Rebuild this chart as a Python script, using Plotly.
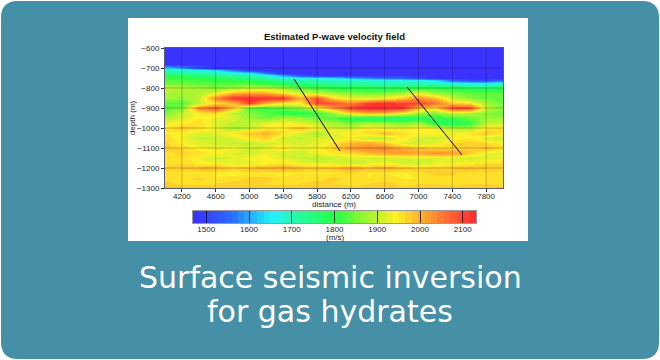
import plotly.graph_objects as go

distance = [4000 + 200 * i for i in range(21)]
depth = [-600, -650, -680, -700, -712, -725, -737, -750, -762, -775, -800, -825, -850, -875, -900, -925, -950, -975,
         -1000, -1025, -1050, -1075, -1100, -1125, -1150, -1175, -1200, -1225, -1250, -1275, -1300]
B = 1480
velocity = [
    [B] * 21,
    [B] * 21,
    [B] * 21,
    [1660, 1600, 1530, B, B, B, B, B, B, B, B, B, B, B, B, B, B, B, B, B, B],
    [1700, 1690, 1670, 1640, 1560, B, B, B, B, B, B, B, B, B, B, B, B, B, B, B, B],
    [1740, 1725, 1710, 1695, 1680, 1665, 1560, B, B, B, B, B, B, B, B, B, B, B, B, B, B],
    [1790, 1770, 1750, 1735, 1715, 1700, 1675, 1590, 1510, B, B, B, B, B, B, B, B, B, B, B, B],
    [1810, 1805, 1795, 1785, 1765, 1745, 1715, 1685, 1670, 1660, 1640, 1610, 1580, 1560, 1545, 1510, B, B, B, B, B],
    [1830, 1825, 1815, 1805, 1800, 1790, 1760, 1720, 1705, 1695, 1690, 1685, 1680, 1675, 1670, 1665, 1640, 1545, 1510, 1510, 1545],
    [1840, 1840, 1830, 1825, 1820, 1815, 1800, 1770, 1750, 1740, 1725, 1720, 1710, 1705, 1700, 1700, 1690, 1670, 1650, 1650, 1680],
    [1900, 1890, 1880, 1860, 1880, 1900, 1900, 1880, 1840, 1820, 1790, 1790, 1790, 1780, 1780, 1800, 1800, 1790, 1780, 1760, 1780],
    [1890, 1880, 1890, 1930, 2000, 2020, 2010, 1960, 1920, 1900, 1880, 1860, 1850, 1860, 1880, 1930, 1880, 1850, 1840, 1830, 1830],
    [1880, 1870, 1900, 2040, 2125, 2130, 2130, 2120, 2000, 2090, 1960, 1930, 1920, 1940, 1980, 2030, 1990, 1900, 1860, 1840, 1830],
    [1830, 1830, 1900, 1960, 1990, 2110, 2000, 1950, 1940, 2100, 2090, 2040, 2110, 2125, 2110, 2100, 2060, 1980, 1960, 1880, 1840],
    [1830, 1860, 2040, 2085, 1980, 1820, 1810, 1830, 1860, 1930, 2020, 2110, 2130, 2131, 2120, 1990, 1960, 2100, 2110, 1900, 1860],
    [1850, 1900, 1950, 1960, 1900, 1860, 1830, 1800, 1790, 1810, 1880, 1960, 2000, 1990, 1940, 1880, 1860, 1900, 1890, 1860, 1840],
    [1890, 1920, 1950, 1930, 1920, 1870, 1850, 1880, 1880, 1850, 1820, 1790, 1760, 1750, 1760, 1780, 1790, 1810, 1840, 1870, 1880],
    [1930, 1950, 1960, 1920, 1900, 1900, 1930, 1950, 1920, 1900, 1880, 1850, 1880, 1880, 1850, 1880, 1780, 1770, 1800, 1900, 1900],
    [1950, 1980, 1960, 1930, 1880, 1900, 1950, 1940, 1990, 1940, 1920, 1910, 1950, 1930, 1920, 1950, 1930, 1890, 1880, 1950, 1960],
    [1950, 1940, 1920, 1930, 1950, 1980, 2000, 1960, 1920, 1880, 1930, 1950, 1960, 1990, 1960, 1940, 1950, 1930, 1950, 1980, 1950],
    [1960, 1940, 1900, 1900, 1920, 1950, 1970, 1910, 1900, 1920, 1920, 1940, 1900, 1900, 1950, 1920, 1900, 1940, 1950, 1920, 1900],
    [1970, 1945, 1925, 1915, 1900, 1900, 1915, 1925, 1915, 1925, 1960, 1990, 2010, 1980, 1925, 1905, 1925, 1965, 1975, 1965, 1940],
    [1975, 1965, 1940, 1930, 1945, 1910, 1925, 1960, 1925, 1940, 1970, 2020, 2040, 2040, 2010, 1985, 1970, 1970, 1975, 1985, 1960],
    [1960, 1970, 1960, 1945, 1920, 1905, 1935, 1910, 1905, 1935, 1950, 1960, 1990, 2010, 2020, 2010, 2030, 2020, 1975, 1935, 1920],
    [1960, 1960, 1935, 1905, 1925, 1945, 1950, 1925, 1905, 1890, 1905, 1925, 1915, 1905, 1915, 1925, 1915, 1925, 1905, 1925, 1930],
    [1955, 1965, 1945, 1950, 1925, 1925, 1940, 1955, 1935, 1925, 1925, 1905, 1925, 1940, 1915, 1905, 1925, 1935, 1945, 1965, 1965],
    [1970, 1980, 1990, 1990, 1970, 1990, 2000, 2010, 1990, 1980, 1990, 2010, 1990, 2000, 1990, 1970, 1980, 1980, 1990, 1980, 1970],
    [1960, 1950, 1950, 1950, 1940, 1950, 1950, 1940, 1950, 1950, 1950, 1960, 1950, 1950, 1940, 1960, 1970, 1970, 1950, 1960, 1960],
    [1960, 1960, 1970, 1950, 1960, 1970, 1970, 1960, 1960, 1960, 1970, 1960, 1950, 1960, 1950, 1950, 1960, 1960, 1950, 1960, 1960],
    [1970, 1960, 1960, 1965, 1970, 1970, 1965, 1960, 1965, 1970, 1965, 1960, 1965, 1970, 1960, 1965, 1965, 1960, 1965, 1965, 1960],
    [1990, 1985, 1975, 1970, 1975, 1975, 1970, 1975, 1970, 1970, 1975, 1970, 1970, 1975, 1970, 1970, 1975, 1970, 1970, 1975, 1970],
]
fault_1_x = [5527, 6071]
fault_1_y = [-755, -1115]
fault_2_x = [6864, 7515]
fault_2_y = [-795, -1135]
x_ticks = [4200, 4600, 5000, 5400, 5800, 6200, 6600, 7000, 7400, 7800]
y_ticks = [-600, -700, -800, -900, -1000, -1100, -1200, -1300]
cbar_ticks = [1500, 1600, 1700, 1800, 1900, 2000, 2100]
title_lines = ["Surface seismic inversion", "for gas hydrates"]

ZMIN, ZMAX = 1469, 2131
anchors = [(1469, (60, 45, 255)), (1560, (40, 110, 255)), (1650, (35, 240, 255)), (1710, (40, 250, 170)),
           (1800, (40, 255, 70)), (1880, (165, 245, 50)), (1945, (255, 240, 40)),
           (2010, (255, 165, 45)), (2131, (255, 40, 50))]


def col(v):
    for (a, ca), (b, cb) in zip(anchors, anchors[1:]):
        if v <= b:
            t = (v - a) / (b - a)
            return "rgb(%d,%d,%d)" % tuple(round(p + (q - p) * t) for p, q in zip(ca, cb))
    return "rgb(255,40,50)"


N = 44
colorscale = []
for i in range(N):
    c = col(ZMIN + (ZMAX - ZMIN) * (i + 0.5) / N)
    colorscale += [[i / N, c], [(i + 1) / N, c]]
cbar_levels = [ZMIN + (ZMAX - ZMIN) * (i + 0.5) / N for i in range(N)]

W, H = 660, 360
px = lambda x: x / W
py = lambda y: 1 - y / H

font = "Liberation Sans"
tick_font = dict(family=font, size=8, color="#222")
fig = go.Figure()
fig.add_trace(go.Heatmap(x=distance, y=depth, z=velocity, zsmooth="best", zmin=ZMIN, zmax=ZMAX,
                         colorscale=colorscale, hoverinfo="skip", showscale=False))
fig.add_trace(go.Heatmap(x=cbar_levels, y=[0], z=[cbar_levels], zmin=ZMIN, zmax=ZMAX, colorscale=colorscale,
                         hoverinfo="skip", showscale=False, xaxis="x2", yaxis="y2"))
for fx, fy in ((fault_1_x, fault_1_y), (fault_2_x, fault_2_y)):
    fig.add_trace(go.Scatter(x=fx, y=fy, mode="lines", line=dict(color="black", width=1),
                             showlegend=False, hoverinfo="skip"))

r = 17
x0, x1, y0, y1 = 1, 659, 1, 359
path = (f"M {px(x0 + r)} {py(y0)} L {px(x1 - r)} {py(y0)} Q {px(x1)} {py(y0)} {px(x1)} {py(y0 + r)} "
        f"L {px(x1)} {py(y1 - r)} Q {px(x1)} {py(y1)} {px(x1 - r)} {py(y1)} L {px(x0 + r)} {py(y1)} "
        f"Q {px(x0)} {py(y1)} {px(x0)} {py(y1 - r)} L {px(x0)} {py(y0 + r)} Q {px(x0)} {py(y0)} {px(x0 + r)} {py(y0)} Z")
shapes = [
    dict(type="path", path=path, xref="paper", yref="paper", fillcolor="#4590a7", line_width=0, layer="below"),
    dict(type="rect", xref="paper", yref="paper", x0=px(128), x1=px(528), y0=py(18), y1=py(241),
         fillcolor="white", line_width=0, layer="below"),
]
grid = "rgba(0,0,0,0.22)"
for t in x_ticks:
    shapes.append(dict(type="line", xref="x", yref="y domain", x0=t, x1=t, y0=0, y1=1,
                       line=dict(color=grid, width=1), layer="above"))
for t in y_ticks[1:-1]:
    shapes.append(dict(type="line", xref="x domain", yref="y", x0=0, x1=1, y0=t, y1=t,
                       line=dict(color=grid, width=1), layer="above"))


def note(text, x, y, size, color="#222", family=font, angle=0):
    return dict(text=text, x=px(x), y=py(y), xref="paper", yref="paper", showarrow=False, textangle=angle,
                xanchor="center", yanchor="middle", font=dict(family=family, size=size, color=color))


annotations = [
    note("<b>Estimated P-wave velocity field</b>", 334, 37, 9.5, "#111"),
    note("distance (m)", 334, 204.5, 8),
    note("depth (m)", 133, 118, 8, angle=-90),
    note("(m/s)", 335, 237, 8),
    note(title_lines[0], 330, 277, 30, "white", "DejaVu Sans"),
    note(title_lines[1], 330, 311, 30, "white", "DejaVu Sans"),
]

axis_line = "rgba(20,20,60,0.7)"
fig.update_layout(
    template="none",
    width=W, height=H, margin=dict(l=0, r=0, t=0, b=0, pad=0), paper_bgcolor="white", plot_bgcolor="rgba(0,0,0,0)",
    showlegend=False, shapes=shapes, annotations=annotations,
    xaxis=dict(domain=[165 / W, 503 / W], range=[4000, 8000], tickvals=x_ticks, showgrid=False, zeroline=False,
               ticks="outside", ticklen=3, tickcolor="#333", showline=True, mirror=True, linecolor=axis_line,
               linewidth=1, tickfont=tick_font, anchor="y", automargin=False, ticklabelstandoff=-3),
    yaxis=dict(domain=[1 - 188 / H, 1 - 48 / H], range=[-1300, -600], tickvals=y_ticks, showgrid=False,
               zeroline=False, ticks="outside", ticklen=3, tickcolor="#333", showline=True, mirror=True,
               linecolor=axis_line, linewidth=1, tickformat="d", tickfont=tick_font, anchor="x", automargin=False),
    xaxis2=dict(domain=[193 / W, 476 / W], range=[ZMIN, ZMAX], tickvals=cbar_ticks, showgrid=False, zeroline=False,
                ticks="inside", ticklen=12, tickcolor="rgba(0,0,0,0.75)", tickwidth=1, showline=True, mirror=True,
                linecolor="#9a9a9a", linewidth=1, tickfont=tick_font, anchor="y2", automargin=False,
                ticklabelstandoff=-2),
    yaxis2=dict(domain=[1 - 223 / H, 1 - 211 / H], range=[-0.5, 0.5], showticklabels=False, ticks="", showgrid=False,
                zeroline=False, showline=True, mirror=True, linecolor="#9a9a9a", linewidth=1, anchor="x2",
                automargin=False),
)
fig.write_html("out.html", config={"displayModeBar": False},
               post_script="document.body.style.margin='0';document.documentElement.style.overflow='hidden';window.dispatchEvent(new Event('resize'));")
